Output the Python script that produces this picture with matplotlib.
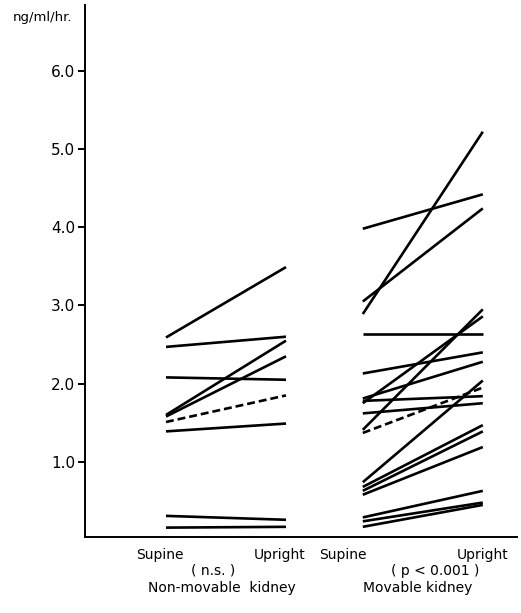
import matplotlib
matplotlib.use("Agg")
import matplotlib.pyplot as plt

# renin activity, supine -> upright (ng/ml/hr.)
nonmov_supine = [2.59, 2.47, 2.08, 1.60, 1.58, 1.39, 0.31, 0.16]
nonmov_upright = [3.49, 2.60, 2.05, 2.55, 2.35, 1.49, 0.26, 0.17]
nonmov_dashed = (1.51, 1.85)  # mean

mov_supine = [2.89, 3.98, 3.05, 2.64, 2.13, 1.81, 1.75, 1.41, 1.78, 1.62,
              0.74, 0.68, 0.63, 0.58, 0.29, 0.24, 0.17]
mov_upright = [5.22, 4.42, 4.24, 2.64, 2.40, 2.28, 2.86, 2.95, 1.84, 1.75,
               2.04, 1.47, 1.39, 1.19, 0.63, 0.48, 0.45]
mov_dashed = (1.37, 1.95)  # mean

yticks = [1.0, 2.0, 3.0, 4.0, 5.0, 6.0]

plt.rcParams['font.family'] = ['DejaVu Sans']

fig = plt.figure(figsize=(5.21, 6.13), dpi=100)
ax = fig.add_axes([85 / 521, 1 - 537 / 613, (517 - 85) / 521, (537 - 5) / 613])

lw = 1.9
left_x = (0.0, 1.0)
right_x = (1.64, 2.64)

for s, u in zip(nonmov_supine, nonmov_upright):
    ax.plot(left_x, (s, u), color='black', lw=lw, solid_capstyle='butt')
ax.plot(left_x, nonmov_dashed, color='black', lw=lw, dashes=(3.0, 1.5))

for s, u in zip(mov_supine, mov_upright):
    ax.plot(right_x, (s, u), color='black', lw=lw, solid_capstyle='butt')
ax.plot(right_x, mov_dashed, color='black', lw=lw, dashes=(3.0, 1.5))

ax.set_xlim(-0.675, 2.925)
ax.set_ylim(0.04, 6.84)
ax.set_xticks([])
ax.set_yticks(yticks)
ax.set_yticklabels(['%.1f' % v for v in yticks], fontsize=11)
ax.tick_params(axis='y', direction='out', length=5, width=1.4, pad=2)
for side in ['top', 'right']:
    ax.spines[side].set_visible(False)
for side in ['left', 'bottom']:
    ax.spines[side].set_linewidth(1.4)

def ftext(x, y, s, size=10):
    fig.text(x / 521, 1 - y / 613, s, ha='center', va='center', fontsize=size)

ftext(43, 18, 'ng/ml/hr.', 9.5)
ftext(160, 555, 'Supine')
ftext(280, 555, 'Upright')
ftext(343, 555, 'Supine')
ftext(483, 555, 'Upright')
ftext(213, 571, '( n.s. )')
ftext(435, 571, '( p < 0.001 )')
ftext(222, 588, 'Non-movable  kidney')
ftext(418, 588, 'Movable kidney')

fig.savefig('out.png', dpi=100)
